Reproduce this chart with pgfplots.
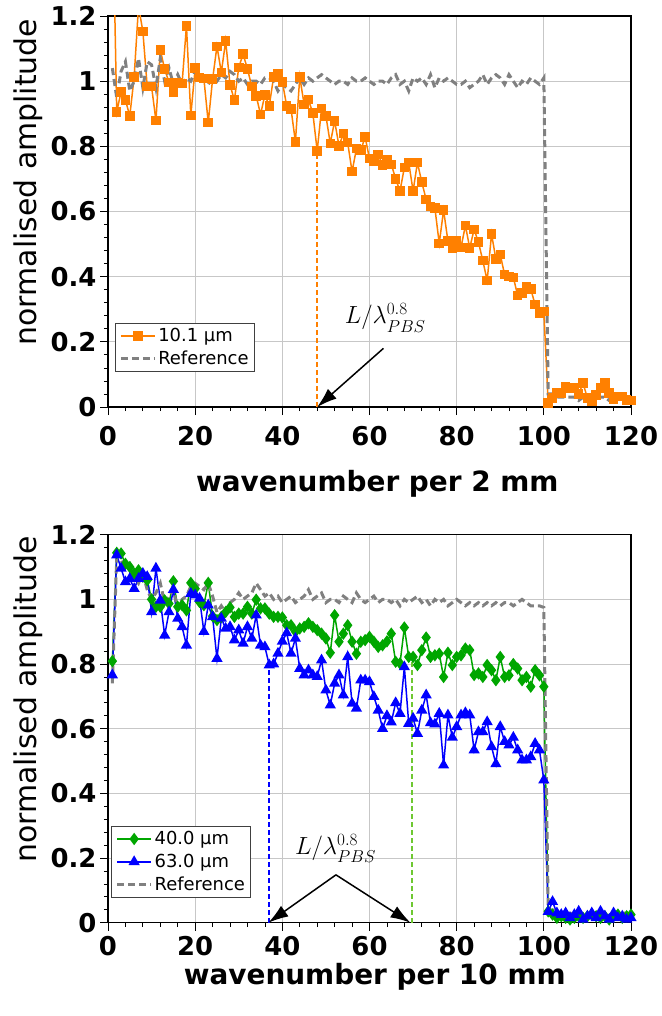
\documentclass[border=0pt]{standalone}
\usepackage{fontspec}
\setmainfont{DejaVu Sans}
\usepackage{pgfplots}
\pgfplotsset{compat=1.18}
\usepackage{pgfplotstable}
\usetikzlibrary{arrows.meta}

\definecolor{cOrange}{RGB}{255,128,0}
\definecolor{cRef}{RGB}{128,128,128}
\definecolor{cGreen}{RGB}{0,166,0}
\definecolor{cBlue}{RGB}{0,0,255}
\definecolor{cLGreen}{RGB}{110,200,50}

% top panel: x, reference, 10.1 um
\pgfplotstableread{
x ref amp
1 1.04 1.60
2 0.95 0.906
3 1.03 0.967
4 1.06 0.942
5 0.97 0.893
6 1.00 1.013
7 1.07 1.23
8 0.98 1.153
9 1.06 0.983
10 1.05 0.983
11 0.98 0.879
12 1.07 1.096
13 1.00 1.037
14 1.04 0.996
15 0.99 0.967
16 1.02 0.996
17 0.99 0.993
18 1.01 1.170
19 1.00 0.895
20 1.03 1.040
21 1.02 1.011
22 1.00 1.008
23 0.99 0.873
24 1.01 1.006
25 1.00 1.107
26 1.02 1.027
27 1.01 1.123
28 1.03 0.988
29 1.02 0.942
30 1.00 1.042
31 1.01 1.083
32 0.99 1.037
33 1.00 0.983
34 1.00 0.955
35 0.99 0.898
36 1.01 0.958
37 1.01 0.924
38 1.00 1.013
39 0.97 1.022
40 0.99 0.998
41 0.98 0.924
42 0.97 0.914
43 0.99 0.814
44 1.01 1.013
45 0.99 0.929
46 1.01 0.943
47 1.00 0.902
48 1.01 0.786
49 1.02 0.916
50 1.01 0.893
51 1.00 0.809
52 0.99 0.878
53 1.00 0.801
54 1.00 0.839
55 0.99 0.811
56 1.01 0.722
57 1.00 0.793
58 1.00 0.788
59 1.01 0.829
60 1.00 0.762
61 0.99 0.755
62 1.00 0.775
63 1.00 0.742
64 0.99 0.760
65 1.01 0.745
66 1.02 0.700
67 0.99 0.663
68 1.00 0.735
69 0.97 0.750
70 1.01 0.663
71 1.00 0.750
72 1.01 0.690
73 0.99 0.637
74 1.02 0.616
75 0.98 0.611
76 1.01 0.502
77 1.00 0.604
78 1.01 0.509
79 1.00 0.488
80 0.99 0.509
81 0.99 0.490
82 1.00 0.557
83 0.98 0.488
84 0.99 0.545
85 1.00 0.506
86 1.02 0.449
87 0.99 0.388
88 1.01 0.531
89 1.02 0.454
90 1.01 0.468
91 0.99 0.406
92 1.02 0.401
93 1.00 0.398
94 0.98 0.342
95 1.00 0.350
96 0.99 0.370
97 1.01 0.362
98 1.00 0.314
99 0.99 0.288
100 1.01 0.293
101 0.04 0.013
102 0.04 0.027
103 0.03 0.044
104 0.03 0.042
105 0.03 0.063
106 0.03 0.058
107 0.03 0.058
108 0.02 0.040
109 0.03 0.073
110 0.02 0.027
111 0.02 0.019
112 0.03 0.037
113 0.03 0.058
114 0.03 0.073
115 0.02 0.043
116 0.02 0.024
117 0.03 0.032
118 0.03 0.032
119 0.02 0.022
120 0.03 0.020
}\toptab

% bottom panel: x, 40.0 um, 63.0 um, reference
\pgfplotstableread{
x g b ref
1 0.809 0.766 0.74
2 1.144 1.137 1.13
3 1.142 1.096 1.12
4 1.110 1.054 1.10
5 1.100 1.064 1.11
6 1.080 1.033 1.07
7 1.090 1.064 1.05
8 1.070 1.080 1.08
9 1.059 1.070 1.03
10 1.000 0.961 1.00
11 0.977 1.096 1.02
12 0.977 0.997 1.05
13 0.997 0.889 0.99
14 0.987 0.961 1.01
15 1.056 1.030 1.03
16 0.977 0.941 0.97
17 0.982 0.915 1.00
18 0.966 0.858 1.01
19 1.051 1.018 1.04
20 1.033 1.013 1.05
21 0.992 1.003 1.04
22 0.982 0.900 1.03
23 1.051 0.982 1.05
24 0.948 0.946 1.01
25 0.936 0.817 0.96
26 0.946 0.941 0.98
27 0.961 0.910 0.96
28 0.975 0.915 0.99
29 0.946 0.874 1.00
30 0.956 0.905 1.02
31 0.956 0.864 1.00
32 0.977 0.915 1.01
33 0.956 0.879 1.02
34 0.999 0.951 1.05
35 0.972 0.858 1.03
36 0.972 0.853 1.01
37 0.956 0.797 1.02
38 0.946 0.800 1.00
39 0.946 0.833 1.01
40 0.944 0.870 0.99
41 0.920 0.896 1.00
42 0.920 0.833 1.01
43 0.900 0.879 0.99
44 0.910 0.786 1.00
45 0.915 0.766 1.01
46 0.926 0.781 1.03
47 0.915 0.766 1.00
48 0.905 0.761 1.01
49 0.894 0.812 1.02
50 0.879 0.719 0.99
51 0.835 0.673 1.00
52 0.951 0.740 1.00
53 0.869 0.766 0.99
54 0.894 0.704 1.01
55 0.920 0.822 1.00
56 0.869 0.678 0.99
57 0.832 0.663 1.02
58 0.869 0.750 1.00
59 0.874 0.750 0.99
60 0.884 0.745 1.00
61 0.869 0.699 1.01
62 0.853 0.657 0.99
63 0.858 0.600 1.00
64 0.870 0.640 1.00
65 0.894 0.620 0.99
66 0.807 0.680 1.00
67 0.802 0.647 0.98
68 0.913 0.791 1.00
69 0.822 0.616 0.99
70 0.822 0.632 1.00
71 0.797 0.585 1.01
72 0.843 0.657 0.99
73 0.882 0.704 1.00
74 0.822 0.618 0.98
75 0.827 0.614 1.00
76 0.832 0.647 0.99
77 0.760 0.487 1.00
78 0.835 0.642 0.98
79 0.797 0.573 0.99
80 0.822 0.606 1.00
81 0.827 0.642 0.99
82 0.848 0.649 0.98
83 0.843 0.642 0.99
84 0.766 0.534 0.98
85 0.771 0.590 0.99
86 0.760 0.590 0.98
87 0.797 0.621 0.99
88 0.781 0.544 0.98
89 0.750 0.491 0.99
90 0.822 0.606 0.98
91 0.760 0.560 0.99
92 0.765 0.549 0.99
93 0.800 0.573 0.98
94 0.786 0.534 0.99
95 0.750 0.503 1.00
96 0.760 0.503 0.99
97 0.730 0.513 0.98
98 0.781 0.554 0.98
99 0.765 0.534 0.98
100 0.730 0.441 0.975
101 0.035 0.034 0.04
102 0.025 0.065 0.04
103 0.015 0.030 0.035
104 0.020 0.025 0.03
105 0.015 0.030 0.03
106 0.010 0.015 0.03
107 0.015 0.025 0.025
108 0.020 0.035 0.025
109 0.015 0.010 0.02
110 0.020 0.020 0.025
111 0.025 0.030 0.02
112 0.020 0.015 0.02
113 0.015 0.035 0.02
114 0.020 0.020 0.02
115 0.010 0.010 0.025
116 0.020 0.030 0.03
117 0.025 0.015 0.035
118 0.015 0.020 0.03
119 0.020 0.010 0.03
120 0.025 0.015 0.025
}\bottab

\pgfplotsset{
  panel/.style={
    scale only axis, width=523bp,
    xmin=0, xmax=120, ymin=0, ymax=1.2,
    xtick={0,20,...,120}, ytick={0,0.2,...,1.2},
    minor x tick num=4, minor y tick num=4,
    tick align=outside, xtick pos=bottom, ytick pos=left,
    major tick length=8bp, minor tick length=4bp,
    every tick/.style={black, line width=0.8bp},
    grid=major, major grid style={line width=1bp, draw=black!22},
    axis line style={line width=1.5bp},
    /pgf/number format/assume math mode=true,
    tick label style={font=\fontsize{26}{26}\selectfont\bfseries},
    ylabel={normalised amplitude},
    ylabel style={font=\fontsize{30}{30}\selectfont, at={(axis description cs:-0.136,0.575)}, anchor=base},
    legend style={anchor=north west, font=\fontsize{18}{18}\selectfont,
      draw=black!75, line width=1bp, inner xsep=4bp, inner ysep=3bp,
      row sep=4bp, cells={anchor=west}},
    legend image code/.code={\draw[mark repeat=2, mark phase=2] plot coordinates {(0bp,0bp) (17bp,0bp) (34bp,0bp)};},
  },
  refline/.style={cRef, line width=3bp, dash pattern=on 7bp off 4bp},
  vmark/.style={line width=1.8bp, dash pattern=on 5bp off 3bp, forget plot},
}
% annotation label, subscript set a little lower so it clears the exponent
\newcommand{\Llabel}{$L/\lambda^{0.8}_{\raisebox{-2pt}{$\scriptstyle PBS$}}$}

\begin{document}
\begin{tikzpicture}
\useasboundingbox (-108bp,-609bp) rectangle (554bp,407bp);

% --- top: wavenumber per 2 mm
\begin{axis}[panel, height=391bp, at={(0bp,0bp)}, anchor=south west,
    xticklabel style={yshift=-8bp},
    xlabel={wavenumber per 2 mm},
    xlabel style={font=\fontsize{28}{28}\selectfont\bfseries, at={(axis description cs:0.515,-0.215)}, anchor=base},
    legend style={at={(0.013,0.215)}},
]
\addplot[cOrange, line width=1.5bp, mark=square*, mark size=4bp] table[x=x, y=amp] {\toptab};
\addlegendentry{10.1 µm}
\addplot[refline] table[x=x, y=ref] {\toptab};
\addlegendentry{Reference}
\addplot[vmark, color=cOrange] coordinates {(48,0) (48,0.786)};
\node[font=\fontsize{23}{23}\selectfont, anchor=base] at (axis cs:63.6,0.255) {\Llabel};
\draw[line width=1.5bp, -{Latex[length=20bp,width=13bp]}] (axis cs:63.2,0.18) -- (axis cs:48,0);
\end{axis}

% --- bottom: wavenumber per 10 mm
\begin{axis}[panel, height=388bp, at={(0bp,-515.7bp)}, anchor=south west,
    xticklabel style={yshift=-2bp},
    xlabel={wavenumber per 10 mm},
    xlabel style={font=\fontsize{28}{28}\selectfont\bfseries, at={(axis description cs:0.51,-0.16)}, anchor=base},
    legend style={at={(0.006,0.249)}},
]
\addplot[cGreen, line width=1.5bp, mark=diamond*, mark size=5bp] table[x=x, y=g] {\bottab};
\addlegendentry{40.0 µm}
\addplot[cBlue, line width=1.5bp, mark=triangle*, mark size=5bp] table[x=x, y=b] {\bottab};
\addlegendentry{63.0 µm}
\addplot[refline] table[x=x, y=ref] {\bottab};
\addlegendentry{Reference}
\addplot[vmark, color=cBlue] coordinates {(36.9,0) (36.9,0.80)};
\addplot[vmark, color=cLGreen] coordinates {(69.8,0) (69.8,0.81)};
\node[font=\fontsize{23}{23}\selectfont, anchor=base] at (axis cs:52.2,0.212) {\Llabel};
\draw[line width=1.5bp, -{Latex[length=20bp,width=13bp]}] (axis cs:52.3,0.148) -- (axis cs:36.8,0);
\draw[line width=1.5bp, -{Latex[length=20bp,width=13bp]}] (axis cs:52.3,0.148) -- (axis cs:69.4,0);
\end{axis}
\end{tikzpicture}
\end{document}
